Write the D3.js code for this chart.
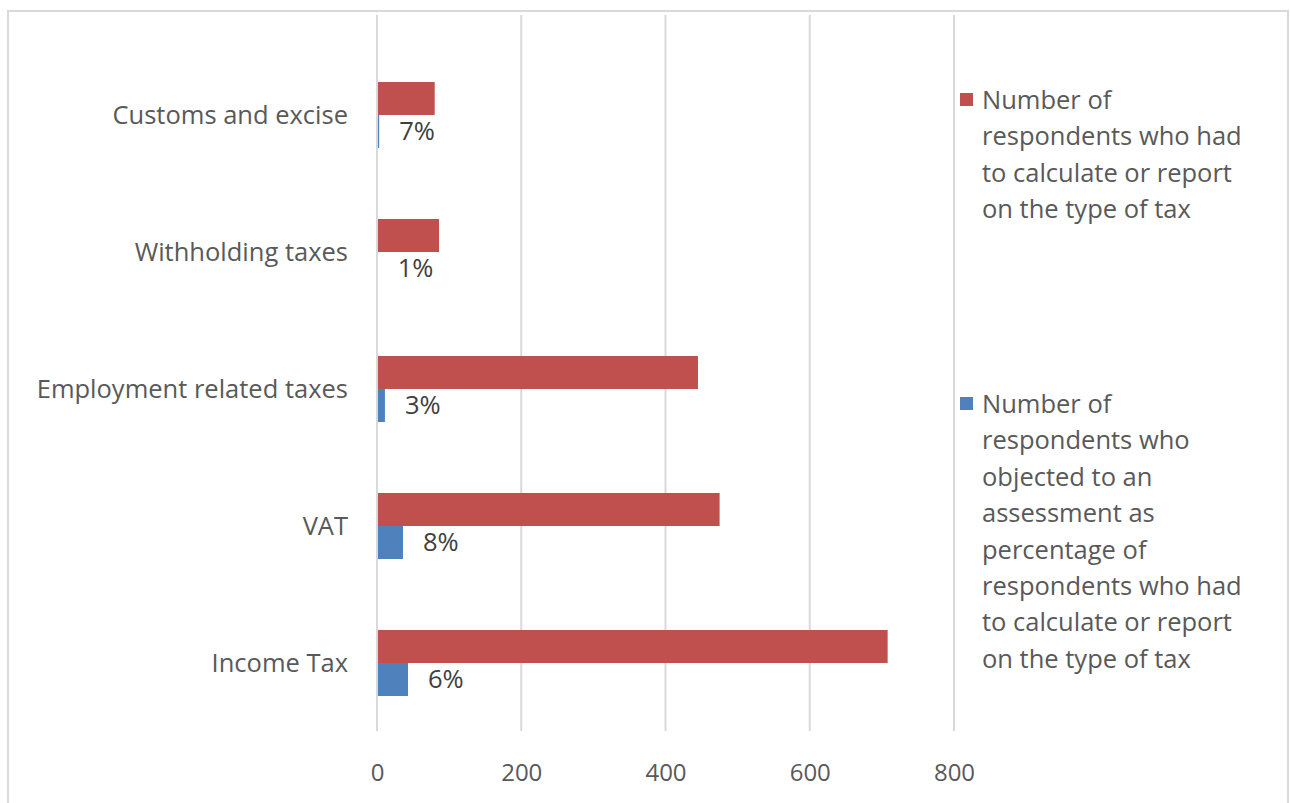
<!DOCTYPE html>
<html>
<head>
<meta charset="utf-8">
<script src="https://cdn.jsdelivr.net/npm/d3@7"></script>
<style>
  html, body { margin: 0; padding: 0; background: #fff; }
  svg { display: block; }
  text { font-family: "Open Sans", Lato, sans-serif; }
</style>
</head>
<body>
<svg id="chart" width="1290" height="803"></svg>
<script>
// Tax types, listed top to bottom
const categories = ["Customs and excise", "Withholding taxes", "Employment related taxes", "VAT", "Income Tax"];
// Respondents who had to calculate or report on the tax
const reported = [80, 86, 445, 475, 708];
// Respondents who objected to an assessment
const objected = [3, 1, 11, 36, 43];
// Objections as share of reporters, shown next to the blue bars
const objectedShare = ["7%", "1%", "3%", "8%", "6%"];
const xTicks = [0, 200, 400, 600, 800];

const seriesNames = [
  "Number of respondents who had to calculate or report on the type of tax",
  "Number of respondents who objected to an assessment as percentage of respondents who had to calculate or report on the type of tax"
];
const legendLines = [
  ["Number of", "respondents who had", "to calculate or report", "on the type of tax"],
  ["Number of", "respondents who", "objected to an", "assessment as", "percentage of", "respondents who had", "to calculate or report", "on the type of tax"]
];
const colors = ["#c0504d", "#4f81bd"];
const fontSize = 25.5;
const tickFontSize = 24;
const fontFamily = "'Open Sans', Lato, sans-serif";

const svg = d3.select("#chart");

// outer chart frame
svg.append("rect")
  .attr("x", 8).attr("y", 11)
  .attr("width", 1280).attr("height", 800)
  .attr("fill", "none").attr("stroke", "#d9d9d9").attr("stroke-width", 2);

const x = d3.scaleLinear().domain([0, 800]).range([377, 954]);
const y = d3.scaleBand().domain(categories).range([46.5, 731.5]).paddingInner(0).paddingOuter(0);
const barH = 33;

// vertical gridlines
svg.append("g")
  .selectAll("line").data(xTicks).join("line")
  .attr("x1", d => x(d)).attr("x2", d => x(d))
  .attr("y1", 15).attr("y2", 731)
  .attr("stroke", "#d9d9d9").attr("stroke-width", 2);

// x axis labels
const xAxis = d3.axisBottom(x).tickValues(xTicks).tickSize(0).tickPadding(0);
const gx = svg.append("g").attr("transform", "translate(0,773)").call(xAxis);
gx.select(".domain").remove();
gx.selectAll("text")
  .attr("font-size", tickFontSize).attr("fill", "#595959")
  .attr("font-family", fontFamily)
  .attr("dy", "0.35em");

// category labels
const yAxis = d3.axisLeft(y).tickSize(0).tickPadding(0);
const gy = svg.append("g").attr("transform", "translate(348,0)").call(yAxis);
gy.select(".domain").remove();
gy.selectAll("text")
  .attr("font-size", fontSize).attr("fill", "#595959")
  .attr("font-family", fontFamily)
  .attr("dy", "0.35em");

const rows = categories.map((c, i) => ({ c, red: reported[i], blue: objected[i], lab: objectedShare[i] }));

// red bars (upper half of each band)
svg.append("g").selectAll("rect").data(rows).join("rect")
  .attr("x", x(0) + 1)
  .attr("y", d => y(d.c) + y.bandwidth() / 2 - barH)
  .attr("width", d => x(d.red) - x(0) - 1)
  .attr("height", barH)
  .attr("fill", colors[0]);

// blue bars (lower half of each band)
svg.append("g").selectAll("rect").data(rows).join("rect")
  .attr("x", x(0) + 1)
  .attr("y", d => y(d.c) + y.bandwidth() / 2)
  .attr("width", d => Math.max(0, x(d.blue) - x(0) - 1))
  .attr("height", barH)
  .attr("fill", colors[1]);

// percentage labels beside the blue bars
svg.append("g").selectAll("text").data(rows).join("text")
  .attr("x", d => x(d.blue) + 20)
  .attr("y", d => y(d.c) + y.bandwidth() / 2 + barH / 2)
  .attr("dy", "0.35em")
  .attr("font-size", fontSize).attr("fill", "#404040")
  .text(d => d.lab);

// legend
const legendTop = [100, 404];
const lineH = 36.4;
legendLines.forEach((lines, k) => {
  const g = svg.append("g").attr("aria-label", seriesNames[k]);
  g.append("rect")
    .attr("x", 960).attr("y", legendTop[k] - 7)
    .attr("width", 13).attr("height", 13)
    .attr("fill", colors[k]);
  g.selectAll("text").data(lines).join("text")
    .attr("x", 982)
    .attr("y", (d, i) => legendTop[k] + i * lineH)
    .attr("dy", "0.35em")
    .attr("font-size", fontSize).attr("fill", "#595959")
    .text(d => d);
});
</script>
</body>
</html>
